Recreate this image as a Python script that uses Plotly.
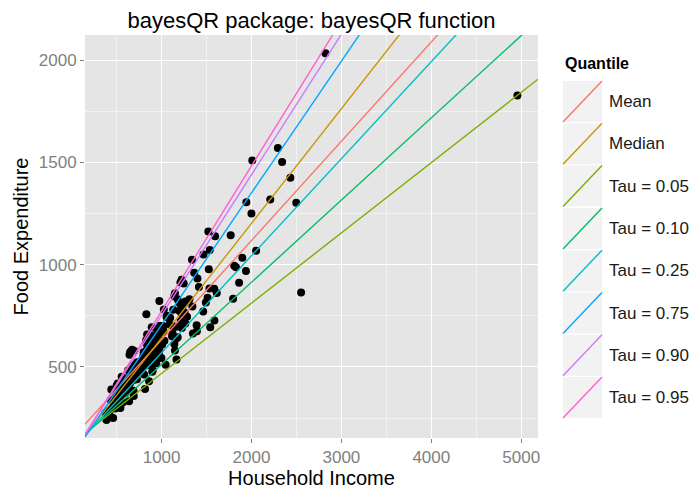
import plotly.graph_objects as go

# Engel food expenditure data: household income and food expenditure
income = [
    420.1577, 541.4117, 901.1575, 639.0802, 750.8756, 945.7989, 829.3979, 979.1648, 1309.8789, 1492.3987,
    502.8390, 616.7168, 790.9225, 555.8786, 713.4412, 838.7561, 535.0766, 596.4408, 924.5619, 487.7583,
    692.6397, 997.8770, 506.9995, 654.1587, 933.9193, 433.6813, 587.5962, 896.4746, 454.4785, 584.9989,
    800.7990, 502.4369, 713.5197, 906.0006, 880.5969, 796.8289, 854.8791, 1167.3716, 523.8000, 670.7792,
    377.0584, 851.5430, 1121.0937, 625.5179, 805.5377, 558.5812, 884.4005, 1257.4853, 2051.1789, 1466.3330,
    730.0989, 2432.3910, 940.9218, 1177.8547, 1222.5939, 1519.5811, 687.6638, 953.1192, 953.1192, 953.1192,
    939.0418, 1283.4025, 1511.5789, 1342.5821, 511.7980, 689.7988, 1532.3074, 1056.0808, 387.3195, 387.3195,
    410.9987, 499.7510, 832.7554, 614.9986, 887.4658, 1595.1611, 1807.9520, 541.2006, 1057.6767, 800.7990,
    1245.6964, 1201.0002, 634.4002, 956.2315, 1148.6010, 1768.8236, 2822.5330, 922.3548, 2293.1920, 627.4726,
    889.9809, 1162.2000, 1197.0794, 530.7972, 1142.1526, 1088.0039, 484.6612, 1536.0201, 678.8974, 671.8802,
    690.4683, 860.6948, 873.3095, 894.4598, 1148.6470, 926.8762, 839.0414, 829.4974, 1264.0043, 1937.9771,
    698.8317, 920.4199, 1897.5711, 891.6824, 889.6784, 1221.4818, 544.5991, 1031.4491, 1462.9497, 830.4353,
    975.0415, 1337.9983, 867.6427, 725.7459, 989.0056, 1525.0005, 672.1960, 923.3977, 472.3215, 590.7601,
    831.7983, 1139.4945, 507.5169, 576.1972, 696.5991, 650.8180, 949.5802, 497.1193, 570.1674, 724.7306,
    408.3399, 638.6713, 1225.7890, 715.3701, 800.4708, 975.5974, 1613.7565, 608.5019, 958.6634, 835.9426,
    1024.8177, 1006.4353, 726.0000, 494.4174, 776.5958, 415.4407, 581.3599, 643.3571, 2551.6615, 1795.3226,
    1165.7734, 815.6212, 1264.2066, 1095.4056, 447.4479, 1178.9742, 975.8023, 1017.8522, 423.8798, 558.7767,
    943.2487, 1348.3002, 2340.6174, 587.1792, 1540.9741, 1115.8481, 1044.6843, 1389.7929, 2497.7860, 1585.3809,
    1862.0438, 2008.8546, 697.3099, 571.2517, 598.3465, 461.0977, 977.1107, 883.9849, 718.3594, 543.8971,
    1587.3480, 4957.8130, 969.6838, 419.9980, 561.9990, 689.5988, 1398.5203, 820.8168, 875.1716, 1392.4499,
    1256.3174, 1362.8590, 1999.2552, 1209.4730, 1125.0356, 1827.4010, 1014.1540, 880.3944, 873.7375, 951.4432,
    473.0022, 601.0030, 713.9979, 829.2984, 959.7953, 1212.9613, 958.8743, 1129.4431, 1943.0419, 539.6388,
    463.5990, 562.6400, 736.7584, 1415.4461, 2208.7897, 636.0009, 759.4010, 1078.8382, 748.6413, 987.6417,
    788.0961, 1020.0225, 1230.9235, 440.5174, 743.0772,
]

foodexp = [
    255.8394, 310.9587, 485.6800, 402.9974, 495.5608, 633.7978, 630.7566, 700.4409, 830.9586, 815.3602,
    338.0014, 412.3613, 520.0006, 452.4015, 512.7201, 658.8395, 392.5995, 443.5586, 640.1164, 333.8394,
    466.9583, 543.3969, 317.7198, 424.3209, 518.9617, 338.0014, 419.6412, 476.3200, 386.3602, 423.2783,
    503.3572, 354.6389, 497.3182, 588.5195, 654.5971, 550.7274, 528.3770, 640.4813, 401.3204, 435.9990,
    276.5606, 588.3488, 664.1978, 444.8602, 462.8995, 377.7792, 553.1504, 810.8962, 1067.9541, 1049.8788,
    522.7012, 1424.8047, 517.9196, 830.9586, 925.5795, 1162.0024, 383.4580, 621.1173, 621.1173, 621.1173,
    548.6002, 745.2353, 837.8005, 795.3402, 418.5976, 508.7974, 883.2780, 742.5276, 242.3202, 242.3202,
    266.0008, 408.4992, 614.7759, 385.3184, 515.6193, 1138.1620, 993.9630, 299.1993, 750.3202, 572.0807,
    907.3969, 811.5776, 427.7975, 649.9985, 860.6002, 1143.4211, 2032.6792, 590.6183, 1570.3911, 483.4800,
    600.4804, 696.2021, 774.7962, 390.5984, 612.5619, 708.7622, 296.9192, 1071.4627, 496.5976, 503.3974,
    357.6411, 430.3376, 624.6990, 582.5413, 580.2215, 543.8807, 588.6372, 627.9999, 712.1012, 968.3949,
    482.5816, 593.1694, 1033.5658, 620.0, 693.6795, 761.2791, 361.3981, 628.4522, 771.4486, 757.1187,
    822.0, 1024.0, 536.0, 440.0, 628.0, 977.0, 584.0, 556.0, 322.0, 396.0,
    508.0, 846.0, 310.0, 375.0, 578.0, 573.0, 560.0, 358.0, 327.0, 502.0,
    286.0, 332.0, 690.0, 450.0, 560.0, 580.0, 862.0, 422.0, 652.0, 545.0,
    781.0, 610.0, 481.0, 355.0, 476.0, 280.0, 400.0, 560.0, 863.9, 833.0,
    536.0, 392.0, 820.0, 741.0, 300.0, 645.0, 600.0, 690.0, 290.0, 398.0,
    612.0, 663.0, 1501.0, 374.0, 694.0, 650.0, 511.0, 704.0, 1302.0, 882.0,
    912.0, 1509.0, 470.0, 410.0, 372.0, 250.0, 700.0, 620.0, 462.0, 345.0,
    727.0, 1827.0, 560.0, 270.0, 372.0, 438.0, 932.0, 520.0, 604.0, 674.0,
    765.0, 960.0, 1250.0, 913.0, 700.0, 987.0, 700.0, 560.0, 520.0, 680.0,
    310.0, 400.0, 440.0, 560.0, 570.0, 724.0, 660.0, 780.0, 1305.0, 352.0,
    331.0, 394.0, 472.0, 891.0, 1318.0, 436.0, 500.0, 740.0, 522.0, 629.0,
    540.0, 671.0, 789.0, 390.0, 496.0,
]

# Fitted lines: mean (least squares) and quantile regressions
quantile_names = ["Mean", "Median", "Tau = 0.05", "Tau = 0.10", "Tau = 0.25",
                  "Tau = 0.75", "Tau = 0.90", "Tau = 0.95"]
intercepts = [147.48, 81.48, 124.88, 110.14, 95.48, 62.40, 67.35, 64.10]
slopes = [0.4852, 0.5602, 0.3434, 0.4018, 0.4741, 0.6440, 0.6862, 0.7091]
line_colors = ["#F8766D", "#CD9600", "#7CAE00", "#00BE67", "#00BFC4",
               "#00A9FF", "#C77CFF", "#FF61CC"]

x_ticks = [1000, 2000, 3000, 4000, 5000]
y_ticks = [500, 1000, 1500, 2000]

# axis limits with 5% padding on the data range
x_lo, x_hi = min(income), max(income)
y_lo, y_hi = min(foodexp), max(foodexp)
x_pad = 0.05 * (x_hi - x_lo)
y_pad = 0.05 * (y_hi - y_lo)
x_range = [x_lo - x_pad, x_hi + x_pad]
y_range = [y_lo - y_pad, y_hi + y_pad]

W, H = 692, 490
ML, MR, MT, MB = 85, 154, 35, 52
PW, PH = W - ML - MR, H - MT - MB

FONT = "Liberation Sans, Arial, Helvetica, sans-serif"
GREY = "#7F7F7F"

fig = go.Figure()

fig.add_trace(go.Scatter(
    x=income, y=foodexp, mode="markers",
    marker=dict(color="black", size=8, line=dict(width=0)),
    showlegend=False, hoverinfo="x+y",
))

for name, a, b, col in zip(quantile_names, intercepts, slopes, line_colors):
    xs = [x_range[0], x_range[1]]
    ys = [a + b * v for v in xs]
    fig.add_trace(go.Scatter(
        x=xs, y=ys, mode="lines", name=name,
        line=dict(color=col, width=1.4), showlegend=False,
    ))

axis_common = dict(
    showgrid=True, gridcolor="white", gridwidth=1.2,
    minor=dict(showgrid=True, gridcolor="#F2F2F2", gridwidth=0.6),
    zeroline=False, showline=False, automargin=False,
    ticks="outside", ticklen=4, tickcolor=GREY, tickwidth=1,
    tickfont=dict(family=FONT, size=17, color=GREY),
)

fig.update_xaxes(
    range=x_range, tickvals=x_ticks, ticktext=[str(v) for v in x_ticks],
    minor_tickvals=[500, 1500, 2500, 3500, 4500], minor_ticks="",
    title=dict(text="Household Income", font=dict(family=FONT, size=20, color="black"), standoff=4),
    **axis_common,
)
fig.update_yaxes(
    range=y_range, tickvals=y_ticks, ticktext=[str(v) for v in y_ticks],
    minor_tickvals=[250, 750, 1250, 1750], minor_ticks="",
    title=dict(text="Food Expenditure", font=dict(family=FONT, size=20, color="black"), standoff=4),
    **axis_common,
)


def px_x(px):
    return (px - ML) / PW


def px_y(py):
    return (H - MB - py) / PH


# hand-built legend with diagonal keys
shapes = []
annotations = []
annotations.append(dict(
    x=px_x(563), y=px_y(63), xref="paper", yref="paper", text="<b>Quantile</b>",
    showarrow=False, xanchor="left", yanchor="middle",
    font=dict(family=FONT, size=16, color="black"),
))
key_top, key_step, key_h = 81.0, 42.3, 41.0
key_x0, key_x1 = 563.0, 602.0
for i, (name, col) in enumerate(zip(quantile_names, line_colors)):
    t = key_top + key_step * i
    b = t + key_h
    shapes.append(dict(type="rect", xref="paper", yref="paper",
                       x0=px_x(key_x0), x1=px_x(key_x1), y0=px_y(b), y1=px_y(t),
                       fillcolor="#F2F2F2", line=dict(width=0), layer="below"))
    shapes.append(dict(type="line", xref="paper", yref="paper",
                       x0=px_x(key_x0), x1=px_x(key_x1), y0=px_y(b), y1=px_y(t),
                       line=dict(color=col, width=1.4)))
    annotations.append(dict(
        x=px_x(607), y=px_y((t + b) / 2), xref="paper", yref="paper", text=name,
        showarrow=False, xanchor="left", yanchor="middle",
        font=dict(family=FONT, size=17, color="#1A1A1A"),
    ))

fig.update_layout(
    width=W, height=H,
    margin=dict(l=ML, r=MR, t=MT, b=MB, autoexpand=False),
    paper_bgcolor="white", plot_bgcolor="#E5E5E5",
    title=dict(text="bayesQR package: bayesQR function", x=(ML + PW / 2) / W, xanchor="center",
               y=1 - 20 / H, yanchor="middle",
               font=dict(family=FONT, size=22, color="black")),
    shapes=shapes, annotations=annotations,
    showlegend=False,
)

fig.write_html("out.html")
